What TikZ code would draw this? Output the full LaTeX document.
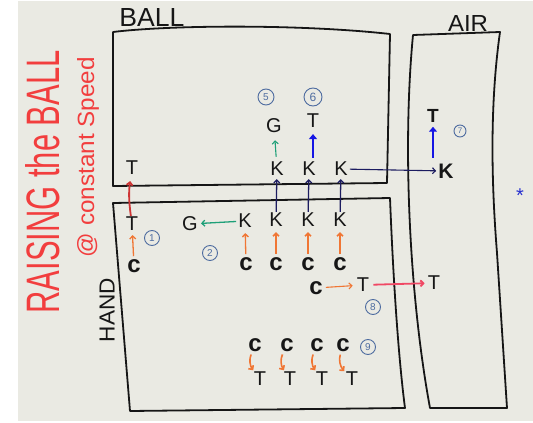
\documentclass[tikz,border=0pt]{standalone}
\usepackage{fontspec}
\setmainfont{Liberation Sans}
\usetikzlibrary{arrows.meta}

\definecolor{board}{RGB}{234,234,227}
\definecolor{marker}{RGB}{22,22,22}
\definecolor{redpen}{RGB}{242,62,62}
\definecolor{orangepen}{RGB}{240,118,52}
\definecolor{navypen}{RGB}{28,28,96}
\definecolor{bluepen}{RGB}{22,22,228}
\definecolor{greenpen}{RGB}{30,160,120}
\definecolor{pinkpen}{RGB}{240,72,100}
\definecolor{circpen}{RGB}{78,108,160}

\tikzset{
  letter/.style={font=\fontsize{20}{20}\selectfont, text=marker, inner sep=0pt},
  cee/.style={font=\bfseries\fontsize{24}{24}\selectfont, text=marker, inner sep=0pt},
  num/.style={circle, draw=circpen, line width=0.9pt, text=circpen,
    font=\fontsize{10}{10}\selectfont, inner sep=0pt, minimum size=15pt},
  wall/.style={line width=1.8pt, draw=marker, line join=round, line cap=round},
  thinup/.style={-{Straight Barb[length=3pt,width=6pt]}, line width=1.3pt},
  bigup/.style={-{Triangle[length=5pt,width=8pt]}, line width=2.6pt, draw=bluepen, fill=bluepen}
}

\begin{document}
\begin{tikzpicture}[x=1pt,y=-1pt]
  \useasboundingbox (0,0) rectangle (533,423);
  \fill[white] (0,0) rectangle (533,423);
  \fill[board] (18,1) rectangle (533,421);

  % boxes
  \draw[wall] (113,186) -- (113,32) .. controls (170,25) and (300,24) .. (390,34) -- (387,183) -- cycle;
  \draw[wall] (113,203) -- (390,198) .. controls (394,300) and (400,370) .. (405,408) -- (130,411) -- cycle;
  \draw[wall] (430,408) .. controls (410,300) and (402,150) .. (413,35) -- (500,32)
    .. controls (489,110) and (492,190) .. (497,253) -- (507,408) -- cycle;

  % titles
  \node[text=marker, inner sep=0pt] (ball) at (152,17) {\resizebox{65pt}{18pt}{BALL}};
  \node[text=marker, inner sep=0pt] (air) at (468,23) {\resizebox{40pt}{16pt}{AIR}};
  \node[text=marker, inner sep=0pt, rotate=90] (hand) at (107,310) {\resizebox{64pt}{15pt}{HAND}};
  \node[text=redpen, inner sep=0pt, rotate=90] (title) at (43,182) {\resizebox{263pt}{34pt}{RAISING the BALL}};
  \node[text=redpen, inner sep=0pt, rotate=90] (speed) at (88,157) {\resizebox{200pt}{17pt}{@ constant Speed}};
  \node[text=bluepen!70!circpen, font=\fontsize{20}{20}\selectfont, inner sep=0pt] (star) at (520,196) {*};

  % 1
  \node[letter] (bT) at (132,168) {T};
  \node[letter] (hT) at (132,224) {T};
  \node[cee] (c0) at (134,266) {c};
  \node[num] (n1) at (152,238) {1};
  \draw[thinup, orangepen, shorten <=3pt, shorten >=4pt] (c0) -- (hT);
  \draw[thinup, redpen!85!black, line width=1.8pt, shorten <=1pt, shorten >=6pt] (hT) to[bend left=8] (bT);

  % 2
  \node[letter] (G2) at (190,224) {G};
  \node[letter] (K0) at (245,221) {K};
  \node[cee] (c1) at (246,264) {c};
  \node[num] (n2) at (210,253) {2};
  \draw[thinup, greenpen, shorten <=2pt, shorten >=3pt] (K0) -- (G2);
  \draw[thinup, orangepen, shorten <=3pt, shorten >=5pt] (c1) -- (K0);

  % hand K row, ball K row
  \foreach \i/\x in {1/276, 2/308, 3/340} {
    \node[letter] (hK\i) at (\x,220) {K};
    \node[cee] (c\i x) at (\x,264) {c};
    \node[letter] (bK\i) at (\x+1,169) {K};
    \draw[thinup, orangepen, line width=1.6pt, shorten <=3pt, shorten >=5pt] (c\i x) -- (hK\i);
    \draw[thinup, navypen, shorten <=1pt, shorten >=3pt] (hK\i) -- (bK\i);
  }

  % 5, 6
  \node[letter] (G5) at (274,126) {G};
  \node[num, minimum size=16pt] (n5) at (266,97) {5};
  \draw[thinup, greenpen, line width=1.1pt, shorten <=5pt, shorten >=7pt] (bK1) -- (G5);
  \node[letter] (T6) at (313,121) {T};
  \node[num, minimum size=18pt, font=\fontsize{12}{12}\selectfont] (n6) at (313,97) {6};
  \draw[bigup, shorten <=4pt, shorten >=6pt] (bK2.north -| T6) -- (T6);

  % 7
  \node[letter, font=\bfseries\fontsize{21}{21}\selectfont] (aK) at (446,171) {K};
  \node[letter, font=\bfseries\fontsize{19}{19}\selectfont] (aT) at (433,116) {T};
  \node[num, minimum size=12pt, font=\fontsize{8}{8}\selectfont] (n7) at (460,131) {7};
  \draw[thinup, navypen, line width=1.1pt, shorten <=2pt, shorten >=2pt] (bK3) -- (aK);
  \draw[bigup, shorten <=6pt, shorten >=4pt] (aK.north -| aT) -- (aT);

  % 8
  \node[cee] (c8) at (316,288) {c};
  \node[letter] (T8) at (363,285) {T};
  \node[letter] (aT8) at (434,283) {T};
  \node[num] (n8) at (373,307) {8};
  \draw[thinup, orangepen, line width=1.1pt, shorten <=3pt, shorten >=4pt] (c8) -- (T8);
  \draw[thinup, pinkpen, line width=1.8pt, shorten <=4pt, shorten >=3pt] (T8) -- (aT8);

  % 9
  \foreach \i/\cx/\tx in {1/255/260, 2/287/290, 3/317/322, 4/343/352} {
    \node[cee] (c9\i) at (\cx,345) {c};
    \node[letter] (t9\i) at (\tx,379) {T};
    \draw[thinup, orangepen, line width=1.6pt, shorten <=3pt, shorten >=2pt] (c9\i) to[bend right=30] (t9\i);
  }
  \node[num] (n9) at (368,347) {9};
\end{tikzpicture}
\end{document}
